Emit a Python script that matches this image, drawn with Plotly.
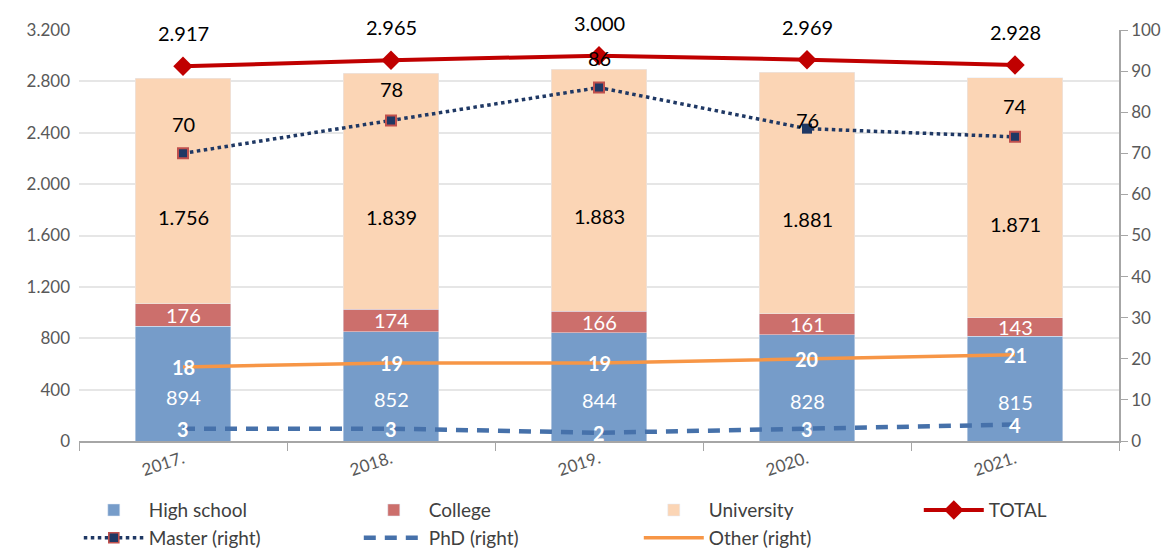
import plotly.graph_objects as go

# Education structure by year
years = ["2017.", "2018.", "2019.", "2020.", "2021."]
high_school = [894, 852, 844, 828, 815]
college = [176, 174, 166, 161, 143]
university = [1756, 1839, 1883, 1881, 1871]
total = [2917, 2965, 3000, 2969, 2928]
master = [70, 78, 86, 76, 74]
phd = [3, 3, 2, 3, 4]
other = [18, 19, 19, 20, 21]


def fmt(v):
    return f"{v:,}".replace(",", ".")


FONT = "Lato"
C_HS = "#769CC9"
C_COL = "#CC6F6C"
C_UNI = "#FBD5B5"
C_TOT = "#C00000"
C_MAS = "#1F3864"
C_PHD = "#4671AA"
C_OTH = "#F79646"

fig = go.Figure()
fig.add_trace(go.Bar(name="High school", x=years, y=high_school, marker_color=C_HS))
fig.add_trace(go.Bar(name="College", x=years, y=college, marker_color=C_COL))
fig.add_trace(go.Bar(name="University", x=years, y=university, marker_color=C_UNI))
fig.add_trace(go.Scatter(name="TOTAL", x=years, y=total, mode="lines+markers",
                         line=dict(color=C_TOT, width=4),
                         marker=dict(symbol="diamond", size=15, color=C_TOT)))
fig.add_trace(go.Scatter(name="Master (right)", x=years, y=master, yaxis="y2",
                         mode="lines+markers",
                         line=dict(color=C_MAS, width=3.5, dash="dot"),
                         marker=dict(symbol="square", size=10, color=C_MAS,
                                     line=dict(color="#C0504D", width=[2, 2, 2, 0, 2]))))
fig.add_trace(go.Scatter(name="PhD (right)", x=years, y=phd, yaxis="y2", mode="lines",
                         line=dict(color=C_PHD, width=4.5, dash="12px,9px")))
fig.add_trace(go.Scatter(name="Other (right)", x=years, y=other, yaxis="y2", mode="lines",
                         line=dict(color=C_OTH, width=3.5)))

# value labels; on a category axis annotations are placed by category index
ann = []
lbl = dict(size=20, family=FONT)
master_shift = [29, 31, 30, 9, 31]
for i in range(len(years)):
    base_c = high_school[i]
    base_u = high_school[i] + college[i]
    ann.append(dict(x=i, y=high_school[i] / 2, yref="y", text=str(high_school[i]),
                    yshift=-13, showarrow=False, font=dict(lbl, color="white")))
    ann.append(dict(x=i, y=base_c + college[i] / 2, yref="y", text=str(college[i]),
                    showarrow=False, font=dict(lbl, color="white")))
    ann.append(dict(x=i, y=base_u + university[i] / 2, yref="y", text=fmt(university[i]),
                    yshift=-26, showarrow=False, font=dict(lbl, color="black")))
    ann.append(dict(x=i, y=total[i], yref="y", text=fmt(total[i]),
                    yshift=33, showarrow=False, font=dict(lbl, color="black")))
    ann.append(dict(x=i, y=master[i], yref="y2", text=str(master[i]),
                    yshift=master_shift[i], showarrow=False,
                    font=dict(lbl, color="black")))
    ann.append(dict(x=i, y=other[i], yref="y2", text=f"<b>{other[i]}</b>",
                    showarrow=False, font=dict(lbl, color="white")))
    ann.append(dict(x=i, y=phd[i], yref="y2", text=f"<b>{phd[i]}</b>",
                    showarrow=False, font=dict(lbl, color="white")))

tick_font = dict(family=FONT, size=17, color="#595959")

fig.update_layout(
    width=1175, height=549,
    margin=dict(l=79, r=56, t=30, b=108, autoexpand=False),
    paper_bgcolor="white", plot_bgcolor="white",
    separators=",.",
    barmode="stack", bargap=0.54,
    font=dict(family=FONT, color="#404040"),
    annotations=ann,
    xaxis=dict(type="category", range=[-0.5, len(years) - 0.5],
               showline=True, linecolor="#A6A6A6", linewidth=1.5,
               ticks="outside", tickson="boundaries", ticklen=8, tickcolor="#A6A6A6",
               tickangle=-18, tickfont=tick_font, showgrid=False),
    yaxis=dict(range=[0, 3200], dtick=400, tickformat=",.0f", showline=False,
               gridcolor="#E6E6E6", gridwidth=1.5, zeroline=False,
               tickfont=tick_font, ticklabelstandoff=8),
    yaxis2=dict(range=[0, 100], dtick=10, overlaying="y", side="right", showgrid=False,
                showline=True, linecolor="#A6A6A6", linewidth=1.5, ticks="outside",
                ticklen=7, tickcolor="#A6A6A6", tickfont=tick_font, zeroline=False),
    legend=dict(orientation="h", x=-0.0002, xanchor="left", y=-0.122, yanchor="top",
                entrywidth=205, entrywidthmode="pixels", traceorder="normal",
                font=dict(family=FONT, size=19, color="#404040"),
                itemwidth=60, tracegroupgap=0),
)

fig.write_html("out.html")
